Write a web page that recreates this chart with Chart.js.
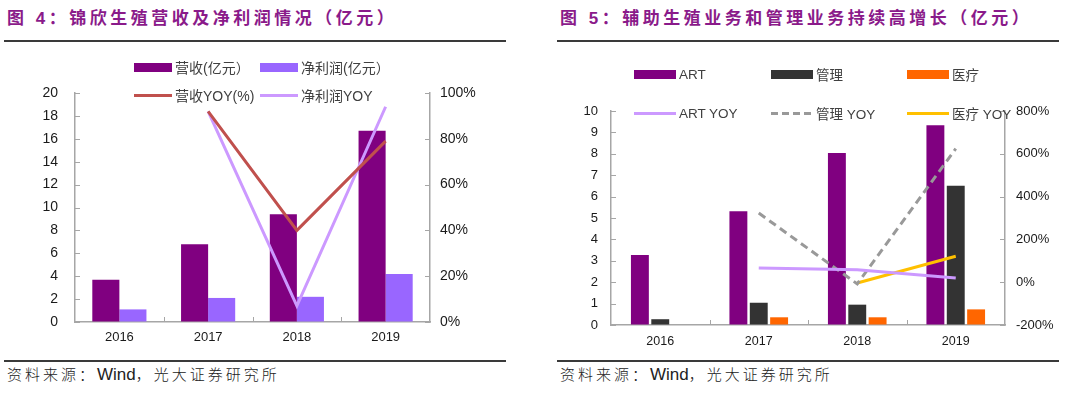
<!DOCTYPE html>
<html>
<head>
<meta charset="utf-8">
<script src="https://cdn.jsdelivr.net/npm/chart.js@4/dist/chart.umd.min.js"></script>
<style>
  body { margin: 0; width: 1080px; height: 394px; background: #fff; position: relative; overflow: hidden;
         font-family: "Liberation Sans", "Noto Sans CJK SC", sans-serif; }
  canvas { position: absolute; top: 0; }
  .title { position: absolute; top: 8px; font-size: 17px; font-weight: bold; color: #8a1a8a;
           letter-spacing: 3.5px; line-height: 22px; white-space: nowrap; font-family: "Liberation Sans", "Noto Sans CJK SC", sans-serif; }
  .rule { position: absolute; height: 2px; background: #3a3a3a; }
  .source { position: absolute; top: 364px; font-size: 15px; color: #222; letter-spacing: 3px; line-height: 22px;
            white-space: nowrap; font-weight: 300; }
  .source b { font-weight: normal; font-size: 17px; letter-spacing: 0; font-family: "Liberation Sans", sans-serif; }
  .lg { position: absolute; height: 20px; display: flex; align-items: center; white-space: nowrap; color: #404040; }
  .lg span { margin-left: 3px; }
</style>
</head>
<body>

<div class="title" style="left:7px">图 4：锦欣生殖营收及净利润情况（亿元）</div>
<div class="rule" style="left:4px; width:502px; top:40px"></div>
<div class="rule" style="left:4px; width:502px; top:360px"></div>
<div class="source" style="left:7px">资料来源：<b>Wind</b>，光大证券研究所</div>

<div class="title" style="left:560px">图 5：辅助生殖业务和管理业务持续高增长（亿元）</div>
<div class="rule" style="left:557px; width:502px; top:40px"></div>
<div class="rule" style="left:557px; width:502px; top:360px"></div>
<div class="source" style="left:560px">资料来源：<b>Wind</b>，光大证券研究所</div>

<canvas id="chartA" width="540" height="394" style="left:0"></canvas>
<canvas id="chartB" width="540" height="394" style="left:540px"></canvas>
<div id="legendA"></div>
<div id="legendB"></div>

<script>
// ---------- data ----------
const years = ["2016", "2017", "2018", "2019"];

// figure 4
const revenue = [3.7, 6.8, 9.4, 16.7];
const netProfit = [1.1, 2.1, 2.2, 4.2];
const revenueYoy = [null, 92, 40, 79];
const profitYoy = [null, 92, 7, 94];

// figure 5
const artRev = [3.27, 5.31, 8.04, 9.33];
const mgmtRev = [0.27, 1.04, 0.95, 6.51];
const medRev = [null, 0.36, 0.36, 0.73];
const artYoy = [null, 66, 58, 20];
const mgmtYoy = [null, 323, -8, 624];
const medYoy = [null, null, -4, 121];

const axisColor = "#a6a6a6";
const tickFamily = "'Liberation Sans', sans-serif";

// small tick marks pointing into the plot
const innerTicks = {
  id: "innerTicks",
  afterDraw(chart) {
    const ctx = chart.ctx;
    const a = chart.chartArea;
    ctx.save();
    ctx.strokeStyle = axisColor;
    ctx.lineWidth = 1;
    ["y", "y2"].forEach(id => {
      const s = chart.scales[id];
      const x = id === "y" ? a.left : a.right;
      const dir = id === "y" ? 1 : -1;
      s.ticks.forEach((t, i) => {
        const py = Math.round(s.getPixelForTick(i)) + 0.5;
        ctx.beginPath();
        ctx.moveTo(x, py);
        ctx.lineTo(x + dir * 5, py);
        ctx.stroke();
      });
    });
    const xs = chart.scales.x;
    const step = xs.getPixelForValue(1) - xs.getPixelForValue(0);
    for (let i = 1; i < xs.ticks.length; i++) {
      const px = Math.round(xs.getPixelForValue(i) - step / 2) + 0.5;
      ctx.beginPath();
      ctx.moveTo(px, a.bottom);
      ctx.lineTo(px, a.bottom - 5);
      ctx.stroke();
    }
    ctx.restore();
  }
};

function fixed(size, key) {
  return scale => { scale[key] = size; };
}

function yAxis(pos, min, max, step, pad, width, fmt, size) {
  return {
    position: pos,
    min: min,
    max: max,
    afterFit: fixed(width, "width"),
    grid: { drawOnChartArea: false, drawTicks: false },
    border: { color: axisColor, width: 1.5 },
    ticks: {
      stepSize: step,
      padding: pad,
      color: "#1a1a1a",
      font: { family: tickFamily, size: size },
      callback: fmt
    }
  };
}

function xAxis(pad, size) {
  return {
    afterFit: fixed(30, "height"),
    grid: { drawOnChartArea: false, drawTicks: false },
    border: { color: axisColor, width: 1.5 },
    ticks: { padding: pad, color: "#1a1a1a", font: { family: tickFamily, size: size } }
  };
}

// ---------- HTML legend ----------
function htmlLegend(chart, wrapId, offsetX, colX, rowY, boxW, ncol, fontSize) {
  const wrap = document.getElementById(wrapId);
  chart.data.datasets.forEach((ds, i) => {
    const col = i % ncol;
    const row = Math.floor(i / ncol);
    const item = document.createElement("div");
    item.className = "lg";
    item.style.left = (offsetX + colX[col]) + "px";
    item.style.top = (rowY[row] - 10) + "px";
    item.style.fontSize = fontSize + "px";
    const mark = document.createElement("div");
    mark.style.width = boxW + "px";
    if (ds.type === "line") {
      mark.style.height = "3px";
      if (ds.borderDash) {
        mark.style.background =
          "repeating-linear-gradient(to right," + ds.borderColor + " 0 7px, transparent 7px 11px)";
      } else {
        mark.style.background = ds.borderColor;
      }
    } else {
      mark.style.height = "9px";
      mark.style.background = ds.backgroundColor;
    }
    const txt = document.createElement("span");
    txt.textContent = ds.label;
    item.appendChild(mark);
    item.appendChild(txt);
    wrap.appendChild(item);
  });
}

// ---------- figure 4 ----------
const chartA = new Chart(document.getElementById("chartA"), {
  type: "bar",
  data: {
    labels: years,
    datasets: [
      { label: "营收(亿元）", data: revenue, backgroundColor: "#800080", yAxisID: "y", order: 2,
        categoryPercentage: 0.61, barPercentage: 1 },
      { label: "净利润(亿元）", data: netProfit, backgroundColor: "#9966ff", yAxisID: "y", order: 2,
        categoryPercentage: 0.61, barPercentage: 1 },
      { type: "line", label: "营收YOY(%)", data: revenueYoy, borderColor: "#c0504d", borderWidth: 3,
        pointRadius: 0, yAxisID: "y2", order: 0 },
      { type: "line", label: "净利润YOY", data: profitYoy, borderColor: "#cc99ff", borderWidth: 3,
        pointRadius: 0, yAxisID: "y2", order: 0 }
    ]
  },
  options: {
    responsive: false,
    animation: false,
    layout: { padding: { top: 93, bottom: 42, left: 0, right: 0 } },
    plugins: { legend: { display: false }, tooltip: { enabled: false } },
    scales: {
      x: xAxis(8, 13),
      y: yAxis("left", 0, 20, 2, 17, 75, v => v, 14),
      y2: yAxis("right", 0, 100, 20, 10, 110, v => v + "%", 14)
    }
  },
  plugins: [innerTicks]
});

// ---------- figure 5 ----------
const chartB = new Chart(document.getElementById("chartB"), {
  type: "bar",
  data: {
    labels: years,
    datasets: [
      { label: "ART", data: artRev, backgroundColor: "#800080", yAxisID: "y", order: 2,
        categoryPercentage: 0.62, barPercentage: 0.88 },
      { label: "管理", data: mgmtRev, backgroundColor: "#333333", yAxisID: "y", order: 2,
        categoryPercentage: 0.62, barPercentage: 0.88 },
      { label: "医疗", data: medRev, backgroundColor: "#ff6600", yAxisID: "y", order: 2,
        categoryPercentage: 0.62, barPercentage: 0.88 },
      { type: "line", label: "ART YOY", data: artYoy, borderColor: "#cc99ff", borderWidth: 3,
        pointRadius: 0, yAxisID: "y2", order: 0 },
      { type: "line", label: "管理 YOY", data: mgmtYoy, borderColor: "#999999", borderWidth: 3,
        borderDash: [8, 5], pointRadius: 0, yAxisID: "y2", order: 0 },
      { type: "line", label: "医疗 YOY", data: medYoy, borderColor: "#ffc000", borderWidth: 3,
        pointRadius: 0, yAxisID: "y2", order: 0 }
    ]
  },
  options: {
    responsive: false,
    animation: false,
    layout: { padding: { top: 111, bottom: 39, left: 0, right: 0 } },
    plugins: { legend: { display: false }, tooltip: { enabled: false } },
    scales: {
      x: xAxis(9, 12.5),
      y: yAxis("left", 0, 10, 1, 13, 71, v => v, 13),
      y2: yAxis("right", -200, 800, 200, 11, 75, v => v + "%", 13)
    }
  },
  plugins: [innerTicks]
});

htmlLegend(chartA, "legendA", 0, [134, 260], [67, 95], 38, 2, 14);
htmlLegend(chartB, "legendB", 540, [94, 231, 367], [74, 113], 42, 3, 13.5);
</script>
</body>
</html>
